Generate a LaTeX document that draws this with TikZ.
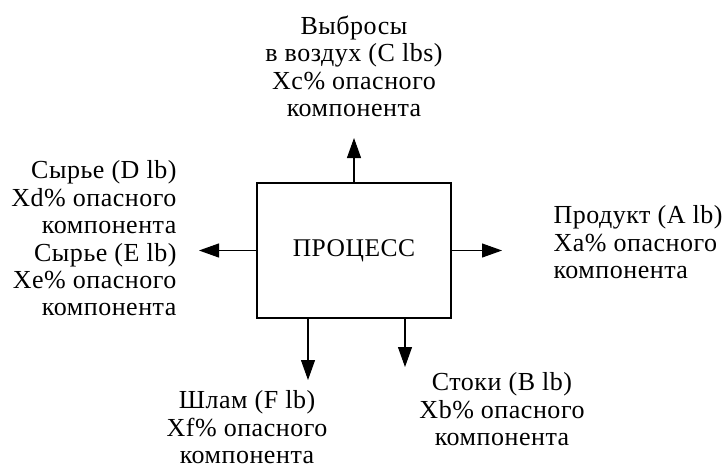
\documentclass[tikz,border=0pt]{standalone}
\usepackage{fontspec}
\setmainfont[LetterSpace=2]{Liberation Serif}
\usetikzlibrary{arrows.meta}
\begin{document}
\begin{tikzpicture}[proc/.style={draw,minimum width=38.8mm,minimum height=27mm,inner sep=0},
  lbl/.style={inner sep=0,font=\fontsize{14.8}{15.6}\selectfont},
  >={Triangle[length=4mm,width=2.8mm]},line width=0.6pt]
\useasboundingbox (0,0) rectangle (14.5,9.34);
\node[proc,font=\fontsize{14.5}{15.6}\selectfont] (proc) at (7.08,4.33) {ПРОЦЕСС};
\node[lbl,align=center] (air) at (7.08,8.01) {Выбросы\\в воздух (C lbs)\\Xc\% опасного\\компонента};
\node[lbl,align=right,anchor=east] (feed) at (3.54,4.57) {Сырье (D lb)\\Xd\% опасного\\компонента\\Сырье (E lb)\\Xe\% опасного\\компонента};
\node[lbl,align=left,anchor=west] (prod) at (11.06,4.49) {Продукт (A lb)\\Xa\% опасного\\компонента};
\node[lbl,align=center] (sludge) at (4.94,0.79) {Шлам (F lb)\\Xf\% опасного\\компонента};
\node[lbl,align=center] (drain) at (10.04,1.15) {Стоки (B lb)\\Xb\% опасного\\компонента};
\coordinate (airtip) at (7.08,6.58);
\coordinate (feedtip) at (3.98,4.33);
\coordinate (prodtip) at (10.04,4.33);
\coordinate (sludgetip) at (6.16,1.74);
\coordinate (draintip) at (8.10,2.0);
\draw[->] (proc.north) -- (airtip);
\draw[->] (proc.west) -- (feedtip);
\draw[->] (proc.east) -- (prodtip);
\draw[->] (proc.south -| sludgetip) -- (sludgetip);
\draw[->] (proc.south -| draintip) -- (draintip);
\end{tikzpicture}
\end{document}
